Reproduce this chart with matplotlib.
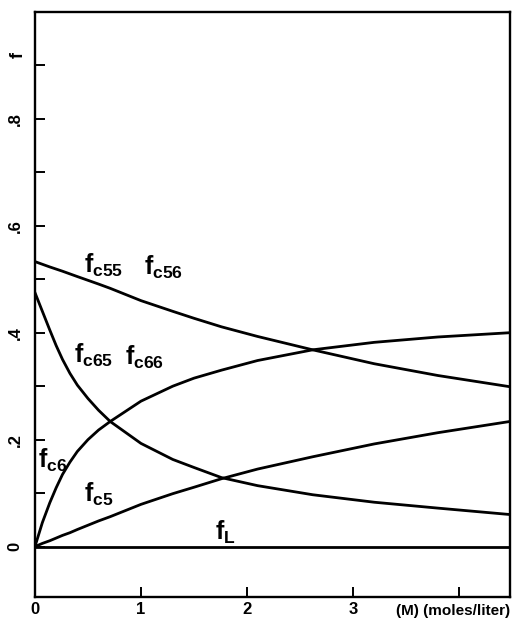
import numpy as np
import matplotlib
matplotlib.use("Agg")
import matplotlib.pyplot as plt

plt.rcParams['font.family'] = ['Liberation Sans', 'DejaVu Sans']
plt.rcParams['mathtext.fontset'] = 'custom'
plt.rcParams['mathtext.rm'] = 'Liberation Sans:bold'
plt.rcParams['mathtext.it'] = 'Liberation Sans:bold'
plt.rcParams['mathtext.bf'] = 'Liberation Sans:bold'

# concentration (M) in moles/liter
conc = [0, 0.07, 0.14, 0.2, 0.26, 0.33, 0.4, 0.5, 0.6, 0.71, 1.0, 1.3, 1.5, 1.76, 2.1, 2.62, 3.2, 3.8, 4.48]

# fractions
f_c55 = [0.533, 0.528, 0.523, 0.519, 0.515, 0.510, 0.505, 0.498, 0.491, 0.483, 0.460, 0.440, 0.427, 0.411, 0.393, 0.368, 0.342, 0.320, 0.299]
f_c65 = [0.475, 0.440, 0.405, 0.376, 0.350, 0.324, 0.302, 0.277, 0.255, 0.234, 0.193, 0.163, 0.148, 0.129, 0.114, 0.097, 0.083, 0.072, 0.060]
f_c6 = [0.0, 0.045, 0.082, 0.110, 0.135, 0.158, 0.178, 0.200, 0.218, 0.234, 0.272, 0.300, 0.315, 0.330, 0.348, 0.368, 0.382, 0.392, 0.400]
f_c5 = [0.0, 0.006, 0.011, 0.016, 0.021, 0.026, 0.032, 0.040, 0.048, 0.056, 0.079, 0.099, 0.111, 0.127, 0.145, 0.168, 0.192, 0.213, 0.234]
f_L = [0.0] * len(conc)

curveLabels = [
    (r'$f_{c55}$', 0.46, 0.525),
    (r'$f_{c56}$', 1.03, 0.522),
    (r'$f_{c65}$', 0.37, 0.358),
    (r'$f_{c66}$', 0.85, 0.354),
    (r'$f_{c6}$', 0.03, 0.162),
    (r'$f_{c5}$', 0.46, 0.097),
    (r'$f_{L}$', 1.70, 0.026),
]

fig = plt.figure(figsize=(5.14, 6.25), dpi=100)
ax = fig.add_axes([0.068, 0.045, 0.924, 0.936])

for series in (f_c55, f_c65, f_c6, f_c5, f_L):
    ax.plot(conc, series, color='black', linewidth=2.0)

ax.set_xlim(0, 4.48)
ax.set_ylim(-0.094, 1.0)

ax.set_xticks([0, 1, 2, 3, 4])
ax.set_xticklabels(['0', '1', '2', '3', ''], fontsize=12, fontweight='bold')
ax.set_yticks([0, 0.2, 0.4, 0.6, 0.8])
ax.set_yticklabels(['0', '.2', '.4', '.6', '.8'], fontsize=12, fontweight='bold', rotation=90, va='center')
ax.set_yticks([0.1, 0.3, 0.5, 0.7, 0.9], minor=True)
ax.tick_params(axis='both', which='both', direction='in', length=7, width=1.4)
ax.tick_params(axis='y', pad=9)
ax.tick_params(axis='x', pad=4)

for spine in ax.spines.values():
    spine.set_linewidth(1.7)

ax.text(-0.036, 0.92, 'f', transform=ax.get_yaxis_transform(), rotation=90,
        ha='center', va='center', fontsize=13, fontweight='bold')
ax.text(1.0, -0.012, '(M) (moles/liter)', transform=ax.transAxes,
        ha='right', va='top', fontsize=11, fontweight='bold')

for text, x, y in curveLabels:
    ax.text(x, y, text, fontsize=18, ha='left', va='center')

fig.savefig('out.png', dpi=100)
